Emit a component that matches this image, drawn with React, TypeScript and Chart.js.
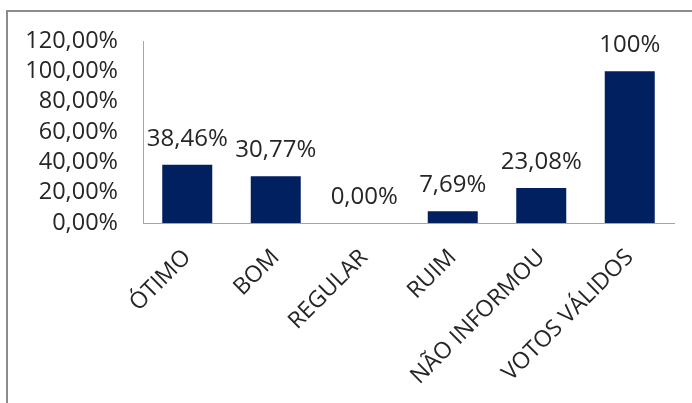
import React, { useEffect, useRef } from "react";
import { Chart, registerables } from "chart.js";

Chart.register(...registerables);

const categories = ["ÓTIMO", "BOM", "REGULAR", "RUIM", "NÃO INFORMOU", "VOTOS VÁLIDOS"];
const values = [38.46, 30.77, 0, 7.69, 23.08, 100];
const valueLabels = ["38,46%", "30,77%", "0,00%", "7,69%", "23,08%", "100%"];

const FONT = "'Open Sans', sans-serif";
const TEXT = "#262626";

export default function App() {
  const ref = useRef<HTMLCanvasElement>(null);
  useEffect(() => {
    if (!ref.current) return;
    const labelPlugin = {
      id: "valueLabels",
      afterDatasetsDraw(chart: any) {
        const ctx = chart.ctx;
        const meta = chart.getDatasetMeta(0);
        ctx.save();
        ctx.font = `24px ${FONT}`;
        ctx.fillStyle = TEXT;
        ctx.textAlign = "center";
        ctx.textBaseline = "alphabetic";
        meta.data.forEach((bar: any, i: number) => {
          ctx.fillText(valueLabels[i], bar.x, bar.y - 19);
        });
        ctx.restore();
      },
    };
    const chart = new Chart(ref.current, {
      type: "bar",
      data: {
        labels: categories,
        datasets: [
          {
            data: values,
            backgroundColor: "#002060",
            borderWidth: 0,
            barPercentage: 0.565,
            categoryPercentage: 1,
          },
        ],
      },
      options: {
        responsive: false,
        animation: false,
        layout: { padding: { top: 41, right: 18, left: 0, bottom: 0 } },
        plugins: { legend: { display: false }, tooltip: { enabled: false } },
        scales: {
          x: {
            grid: { display: false, drawTicks: false },
            border: { display: true, color: "#a6a6a6", width: 1 },
            ticks: {
              minRotation: 45,
              maxRotation: 45,
              autoSkip: false,
              padding: 21,
              color: TEXT,
              font: { family: FONT, size: 23 },
            },
            afterFit: (s: any) => {
              s.height = 180;
            },
          },
          y: {
            min: 0,
            max: 120,
            grid: { display: false, drawTicks: false },
            border: { display: true, color: "#a6a6a6", width: 1 },
            ticks: {
              stepSize: 20,
              autoSkip: false,
              padding: 25,
              color: TEXT,
              font: { family: FONT, size: 23.5 },
              callback: (v: any) => Number(v).toFixed(2).replace(".", ",") + "%",
            },
            afterFit: (s: any) => {
              s.width = 143;
            },
          },
        },
      },
      plugins: [labelPlugin],
    });
    return () => chart.destroy();
  }, []);
  return (
    <div style={{ position: "fixed", left: 0, top: 0, width: 692, height: 403, overflow: "hidden", background: "#fff" }}>
      <div
        style={{
          position: "absolute",
          left: 6,
          top: 10,
          width: 800,
          height: 600,
          borderTop: "2px solid #8c8c8c",
          borderLeft: "2px solid #8c8c8c",
        }}
      />
      <canvas ref={ref} width={692} height={403} style={{ position: "absolute", left: 0, top: 0 }} />
    </div>
  );
}
